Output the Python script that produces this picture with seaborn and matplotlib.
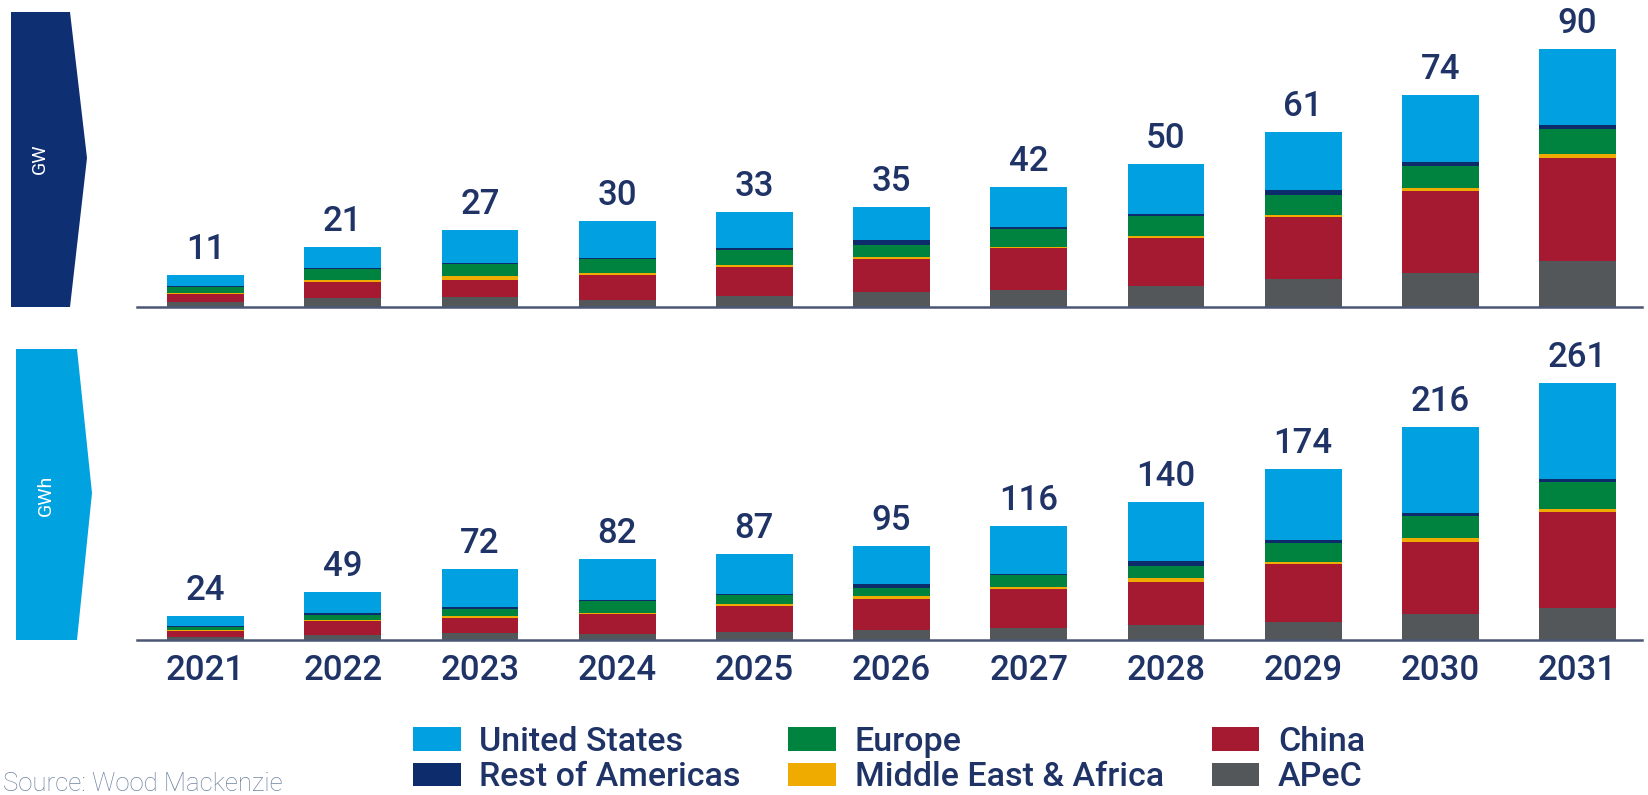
import matplotlib
matplotlib.use("Agg")
import matplotlib.pyplot as plt
from matplotlib.patches import Polygon, Patch
import numpy as np
import pandas as pd
import seaborn as sns

# ---- data -------------------------------------------------------------
years = ["2021", "2022", "2023", "2024", "2025", "2026",
         "2027", "2028", "2029", "2030", "2031"]

regions = ["APeC", "China", "Middle East & Africa", "Europe",
           "Rest of Americas", "United States"]   # bottom -> top

# GW additions by region
gw_apec   = [1.7, 3.1, 3.6, 2.4, 3.7, 5.1, 5.8, 7.4, 9.9, 12.0, 15.9]
gw_china  = [3.0, 5.6, 5.7, 8.7, 10.2, 11.6, 14.7, 16.8, 21.5, 28.5, 36.1]
gw_mea    = [0.3, 0.8, 1.5, 0.9, 0.9, 0.6, 0.5, 0.6, 0.8, 1.0, 1.4]
gw_europe = [2.0, 3.8, 4.1, 4.6, 5.2, 4.4, 6.3, 7.1, 7.0, 7.7, 8.7]
gw_roa    = [0.3, 0.4, 0.5, 0.6, 0.5, 1.5, 0.6, 0.6, 1.5, 1.4, 1.5]
gw_us     = [3.7, 7.3, 11.6, 12.8, 12.5, 11.8, 14.1, 17.5, 20.3, 23.4, 26.4]

# GWh additions by region
gwh_apec   = [3.4, 5.2, 6.7, 5.7, 7.7, 10.1, 11.8, 15.1, 18.4, 26.8, 32.7]
gwh_china  = [6.1, 14.1, 15.2, 20.7, 26.8, 32.0, 39.7, 44.3, 58.5, 73.2, 97.0]
gwh_mea    = [0.5, 1.0, 2.4, 1.0, 2.4, 2.4, 2.4, 3.4, 2.7, 4.0, 3.4]
gwh_europe = [3.4, 5.1, 7.1, 12.5, 8.4, 8.4, 12.5, 12.8, 19.2, 21.9, 26.9]
gwh_roa    = [0.6, 1.7, 2.4, 1.0, 1.7, 3.7, 1.0, 4.4, 2.7, 3.4, 4.0]
gwh_us     = [10.0, 21.9, 38.2, 41.1, 40.0, 38.4, 48.6, 60.0, 72.5, 86.7, 97.0]

colors = {
    "United States": "#00A0E1",
    "Rest of Americas": "#0D2C6C",
    "Europe": "#00833E",
    "Middle East & Africa": "#F0AB00",
    "China": "#A51931",
    "APeC": "#53575A",
}

# ---- styling ----------------------------------------------------------
sns.set_theme(style="white")
plt.rcParams["font.family"] = ["Roboto", "DejaVu Sans"]

W, H = 1648, 795
DPI = 100
fig = plt.figure(figsize=(W / DPI, H / DPI), dpi=DPI)
fig.patch.set_facecolor("white")

TEXT_COLOR = "#1F3366"
AXIS_COLOR = "#4B5675"


def fx(x):
    return x / W


def fy(y):
    return 1 - y / H


def stacked_panel(ax, series, ymax, show_years):
    df = pd.DataFrame({"year": years})
    for name, vals in zip(regions, series):
        df[name] = vals
    cum = df[regions].cumsum(axis=1)
    # draw tallest cumulative layer first so lower layers overlay it
    for name in reversed(regions):
        sns.barplot(x=df["year"], y=cum[name], order=years, color=colors[name],
                    width=0.56, saturation=1, linewidth=0, errorbar=None, ax=ax)
    totals = cum[regions[-1]].values
    for i, t in enumerate(totals):
        ax.annotate(f"{int(round(t))}", (i, t), xytext=(0, 11.5),
                    textcoords="offset points", ha="center", va="baseline",
                    fontsize=25, fontweight="medium", color=TEXT_COLOR)
    ax.set_xlim(-0.5, 10.47)
    ax.set_ylim(0, ymax)
    ax.set_xlabel("")
    ax.set_ylabel("")
    ax.set_yticks([])
    for side in ("top", "left", "right"):
        ax.spines[side].set_visible(False)
    ax.spines["bottom"].set_color(AXIS_COLOR)
    ax.spines["bottom"].set_linewidth(1.8)
    ax.set_facecolor("none")
    if show_years:
        ax.tick_params(axis="x", length=0, pad=10, labelsize=25,
                       labelcolor=TEXT_COLOR)
        for lab in ax.get_xticklabels():
            lab.set_fontweight("medium")
    else:
        ax.set_xticks([])


ax_top = fig.add_axes([fx(137), fy(307), fx(1642) - fx(137), (307 - 10) / H])
stacked_panel(ax_top, [gw_apec, gw_china, gw_mea, gw_europe, gw_roa, gw_us],
              90 * (307 - 10) / (307 - 49), False)

ax_bot = fig.add_axes([fx(137), fy(640), fx(1642) - fx(137), (640 - 340) / H])
stacked_panel(ax_bot, [gwh_apec, gwh_china, gwh_mea, gwh_europe, gwh_roa, gwh_us],
              261 * (640 - 340) / (640 - 383), True)

# ---- unit tabs on the left --------------------------------------------
def unit_tab(pts, color, label, cx, cy):
    poly = Polygon([(fx(x), fy(y)) for x, y in pts], closed=True,
                   transform=fig.transFigure, facecolor=color, edgecolor="none")
    fig.add_artist(poly)
    fig.text(fx(cx), fy(cy), label, rotation=90, ha="center", va="center",
             color="white", fontsize=14)


unit_tab([(11, 12), (70, 12), (87, 158), (70, 307), (11, 307)],
         "#0F2F73", "GW", 40, 159)
unit_tab([(16, 349), (77, 349), (92, 493), (77, 640), (16, 640)],
         "#00A3E0", "GWh", 46, 495)

# ---- legend -----------------------------------------------------------
legend_order = ["United States", "Rest of Americas", "Europe",
                "Middle East & Africa", "China", "APeC"]
handles = [Patch(facecolor=colors[n], edgecolor="none", label=n)
           for n in legend_order]
fig.legend(handles=handles, ncol=3, loc="upper left",
           bbox_to_anchor=(fx(413), fy(726)), frameon=False,
           prop={"family": "Roboto", "weight": "medium", "size": 24.5},
           labelcolor=TEXT_COLOR, handlelength=1.4, handleheight=0.68,
           handletextpad=0.55, columnspacing=1.4, labelspacing=0.1,
           borderpad=0, borderaxespad=0)

fig.text(fx(3), fy(791), "Source: Wood Mackenzie", ha="left", va="baseline",
         fontsize=18.5, fontweight="light", color="#7083A0")

fig.savefig("out.png", dpi=DPI, facecolor="white")
